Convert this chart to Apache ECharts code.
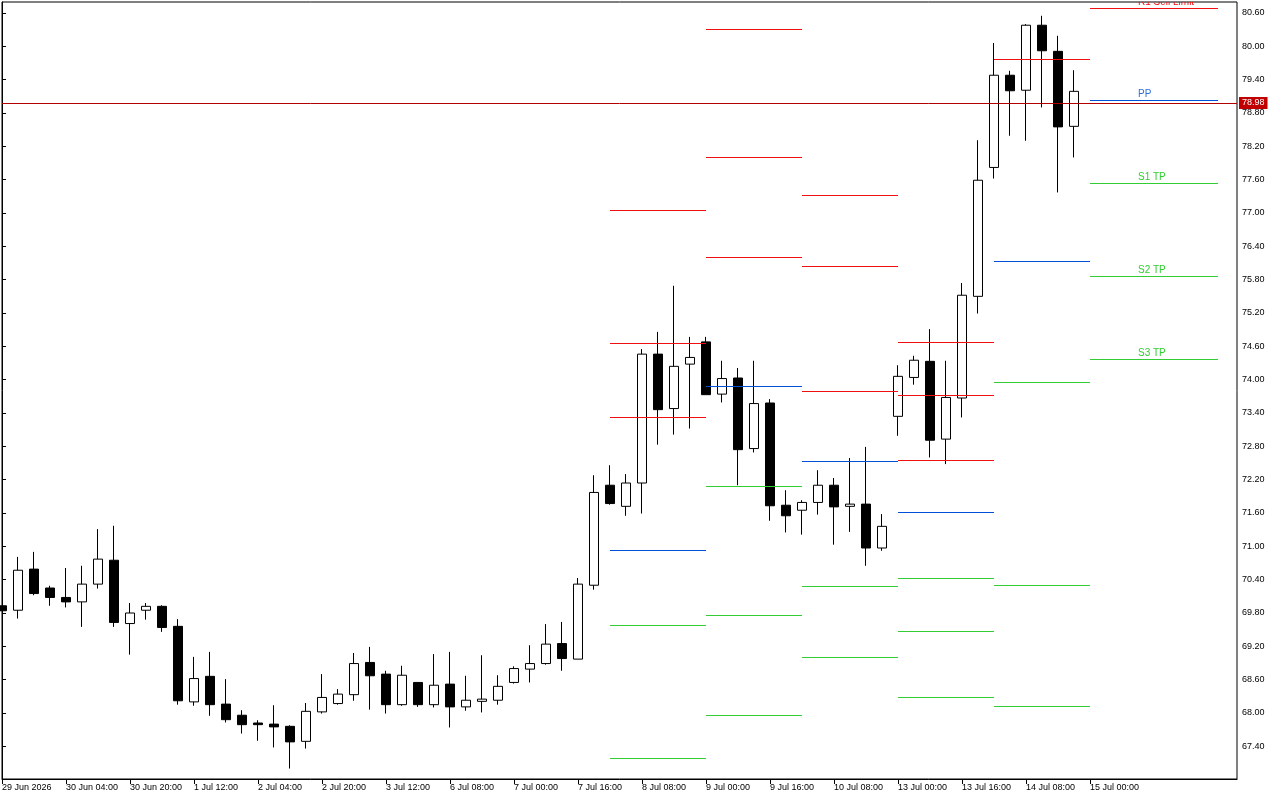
<!DOCTYPE html>
<html>
<head>
<meta charset="utf-8">
<title>H4 chart with daily pivots</title>
<script src="https://cdn.jsdelivr.net/npm/echarts@6/dist/echarts.min.js"></script>
<style>
  html, body { margin: 0; padding: 0; background: #fff; }
  #chart { width: 1280px; height: 800px; }
</style>
</head>
<body>
<div id="chart"></div>
<script>
// H4 bars, one entry per bar (index = bar position)
const opens = [69.93, 69.85, 70.59, 70.25, 70.08, 70.00, 70.32, 70.75, 69.61, 69.85,
  69.92, 69.56, 68.20, 68.66, 68.16, 67.96, 67.82, 67.80, 67.76, 67.49,
  68.02, 68.17, 68.33, 68.91, 68.70, 68.15, 68.55, 68.15, 68.52, 68.11,
  68.21, 68.23, 68.55, 68.79, 68.89, 69.25, 68.97, 70.30, 72.10, 71.72,
  72.14, 74.46, 73.48, 74.28, 74.68, 73.74, 74.03, 72.76, 73.58, 71.74,
  71.65, 71.79, 72.10, 71.72, 71.76, 70.97, 73.34, 74.04, 74.33, 72.93,
  73.67, 75.50, 77.82, 79.48, 79.21, 80.38, 79.91, 78.56];
const closes = [69.84, 70.57, 70.15, 70.08, 70.00, 70.32, 70.77, 69.63, 69.80, 69.92,
  69.54, 68.22, 68.62, 68.15, 67.88, 67.79, 67.79, 67.75, 67.48, 68.03,
  68.28, 68.34, 68.89, 68.67, 68.15, 68.68, 68.15, 68.50, 68.11, 68.23,
  68.25, 68.48, 68.80, 68.89, 69.24, 68.98, 70.32, 71.97, 71.77, 72.14,
  74.46, 73.46, 74.24, 74.40, 73.73, 74.02, 72.74, 73.57, 71.73, 71.55,
  71.79, 72.10, 71.71, 71.76, 70.97, 71.36, 74.06, 74.35, 72.91, 73.68,
  75.52, 77.59, 79.48, 79.20, 80.38, 79.92, 78.55, 79.19];
const highs = [69.93, 70.81, 70.90, 70.29, 70.61, 70.65, 71.31, 71.37, 69.98, 69.98,
  69.94, 69.69, 69.01, 69.10, 68.61, 68.05, 67.87, 68.14, 67.78, 68.18,
  68.70, 68.43, 69.08, 69.19, 68.76, 68.85, 68.55, 69.06, 69.10, 68.67,
  69.04, 68.68, 68.84, 69.22, 69.60, 69.64, 70.43, 72.28, 72.46, 72.30,
  74.55, 74.86, 75.69, 74.77, 74.77, 74.34, 74.21, 74.34, 73.65, 72.01,
  71.83, 72.37, 72.23, 72.59, 72.79, 71.58, 74.26, 74.43, 74.91, 74.34,
  75.74, 78.31, 80.06, 79.56, 80.40, 80.55, 80.19, 79.57];
const lows = [69.84, 69.70, 70.12, 69.93, 69.90, 69.55, 70.24, 69.55, 69.05, 69.68,
  69.46, 68.15, 68.13, 67.95, 67.83, 67.63, 67.50, 67.38, 67.00, 67.36,
  67.99, 68.15, 68.22, 68.06, 67.99, 68.13, 68.11, 68.10, 67.74, 68.04,
  68.01, 68.15, 68.53, 68.55, 68.87, 68.76, 68.97, 70.22, 71.75, 71.55,
  71.59, 72.83, 73.01, 73.12, 73.73, 73.59, 72.10, 72.69, 71.46, 71.25,
  71.21, 71.57, 71.03, 71.26, 70.65, 70.92, 72.99, 73.91, 72.60, 72.48,
  73.32, 75.19, 77.62, 78.39, 78.30, 78.90, 77.37, 78.00];

// x-axis labels, one every 4 bars
const xTickLabels = ['29 Jun 2026', '30 Jun 04:00', '30 Jun 20:00', '1 Jul 12:00',
  '2 Jul 04:00', '2 Jul 20:00', '3 Jul 12:00', '6 Jul 08:00', '7 Jul 00:00',
  '7 Jul 16:00', '8 Jul 08:00', '9 Jul 00:00', '9 Jul 16:00', '10 Jul 08:00',
  '13 Jul 00:00', '13 Jul 16:00', '14 Jul 08:00', '15 Jul 00:00'];
const yTicks = [67.4, 68.0, 68.6, 69.2, 69.8, 70.4, 71.0, 71.6, 72.2, 72.8, 73.4,
  74.0, 74.6, 75.2, 75.8, 76.4, 77.0, 77.6, 78.2, 78.8, 79.4, 80.0, 80.6];

const currentPrice = 78.98;

// daily pivot levels (bar index where each day starts / ends)
const pivotStart = [38, 44, 50, 56, 62, 68];
const pivotEnd   = [44, 50, 56, 62, 68, 76];
const r3 = [77.05, 80.32, 77.32, 74.67, null, null];
const r2 = [74.66, 78.00, 76.04, 73.72, null, null];
const r1 = [73.33, 76.20, 73.79, 72.55, 79.78, 80.69];
const pp = [70.93, 73.88, 72.53, 71.61, 76.13, 79.03];
const s1 = [69.59, 72.08, 70.29, 70.43, 73.95, 77.54];
const s2 = [67.19, 69.77, 69.01, 69.48, 70.30, 75.87];
const s3 = [null, 67.97, null, 68.29, 68.13, 74.37];
const lastDayNames = { r1: 'R1 Sell Limit', pp: 'PP', s1: 'S1 TP', s2: 'S2 TP', s3: 'S3 TP' };

const RED = '#f01010';
const BLUE = '#0050d8';
const GREEN = '#32cd32';
const FONT = '"Liberation Sans", Arial, sans-serif';

const candleData = opens.map((o, i) => [i, o, closes[i], lows[i], highs[i]]);

// flatten levels into segments for the custom series
const levelSets = [
  ['r3', r3, RED], ['r2', r2, RED], ['r1', r1, RED], ['pp', pp, BLUE],
  ['s1', s1, GREEN], ['s2', s2, GREEN], ['s3', s3, GREEN]
];
const segments = [];
levelSets.forEach(([key, arr, color]) => {
  arr.forEach((v, d) => {
    if (v == null) return;
    const isLast = d === pivotStart.length - 1;
    segments.push({
      value: [pivotStart[d], pivotEnd[d], v],
      color: color,
      name: isLast ? (lastDayNames[key] || '') : ''
    });
  });
});

const chart = echarts.init(document.getElementById('chart'), null, { renderer: 'canvas' });

const option = {
  backgroundColor: '#fff',
  animation: false,
  grid: {
    left: 2, right: 43, top: 2, bottom: 21,
    show: true, borderColor: '#000', borderWidth: 1,
    containLabel: false, outerBoundsMode: 'none'
  },
  xAxis: {
    type: 'value',
    min: 0,
    max: 77.1875,
    axisLine: { show: true, lineStyle: { color: '#000', width: 1 } },
    axisTick: {
      show: true, length: 5, lineStyle: { color: '#000' },
      customValues: xTickLabels.map((_, k) => k * 4)
    },
    axisLabel: {
      show: true, color: '#000', fontSize: 9, fontFamily: FONT,
      align: 'left', margin: 4, showMinLabel: true, showMaxLabel: true,
      customValues: xTickLabels.map((_, k) => k * 4),
      formatter: (v) => xTickLabels[Math.round(v / 4)] || ''
    },
    splitLine: { show: false }
  },
  yAxis: {
    type: 'value',
    position: 'right',
    min: 66.812,
    max: 80.798,
    axisLine: { show: true, lineStyle: { color: '#000', width: 1 } },
    axisTick: { show: true, length: 4, lineStyle: { color: '#000' }, customValues: yTicks },
    axisLabel: {
      show: true, color: '#000', fontSize: 9, fontFamily: FONT, margin: 5,
      customValues: yTicks,
      formatter: (v) => v.toFixed(2)
    },
    splitLine: { show: false }
  },
  series: [
    {
      type: 'candlestick',
      data: candleData,
      encode: { x: 0, y: [1, 2, 3, 4] },
      barWidth: 9,
      silent: true,
      itemStyle: {
        color: '#fff', color0: '#000',
        borderColor: '#000', borderColor0: '#000', borderWidth: 1
      },
      markLine: {
        silent: true,
        symbol: 'none',
        animation: false,
        data: [{ yAxis: currentPrice }],
        lineStyle: { color: '#b00000', width: 1, type: 'solid' },
        label: {
          show: true, position: 'end', distance: 2,
          formatter: () => currentPrice.toFixed(2),
          color: '#fff', backgroundColor: '#c00000',
          fontSize: 9, fontFamily: FONT, padding: [2, 3, 1, 3]
        }
      }
    },
    {
      type: 'custom',
      clip: true,
      silent: true,
      z: 5,
      data: segments.map(s => s.value),
      renderItem: function (params, api) {
        const seg = segments[params.dataIndex];
        const p1 = api.coord([api.value(0), api.value(2)]);
        const p2 = api.coord([api.value(1), api.value(2)]);
        const y = Math.round(p1[1]) + 0.5;
        const children = [{
          type: 'line',
          shape: { x1: Math.round(p1[0]), y1: y, x2: Math.round(p2[0]), y2: y },
          style: { stroke: seg.color, lineWidth: 1 }
        }];
        if (seg.name) {
          const pt = api.coord([api.value(0) + 3, api.value(2)]);
          children.push({
            type: 'text',
            style: {
              x: Math.round(pt[0]), y: y - 1,
              text: seg.name,
              fill: seg.color === BLUE ? '#2f6fd6' : seg.color,
              font: '10px ' + FONT,
              textAlign: 'left', textVerticalAlign: 'bottom'
            }
          });
        }
        return { type: 'group', children: children };
      }
    }
  ]
};

chart.setOption(option);
</script>
</body>
</html>
